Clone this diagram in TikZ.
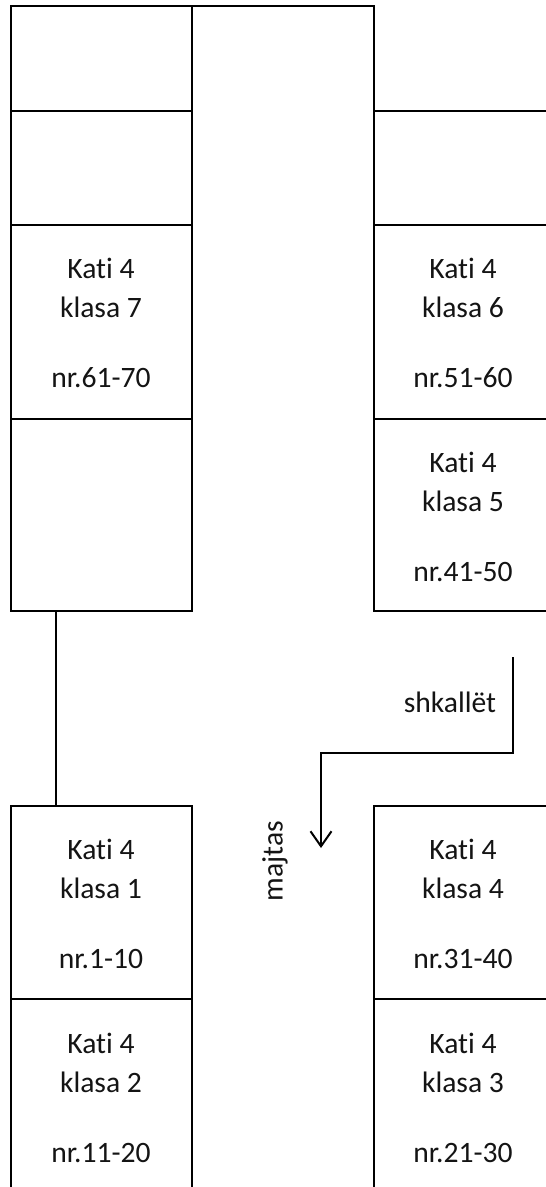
\documentclass[tikz,border=0pt]{standalone}
\usepackage{fontspec}
\setmainfont{Carlito}[Ligatures=NoCommon]
\usetikzlibrary{arrows.meta}
\tikzset{
  wall/.style={draw=black,line width=1.5pt,line cap=butt},
  lbl/.style={inner sep=0pt,font=\fontsize{29.6}{34}\selectfont,text=black!92},
  flow/.style={draw=black,line width=2pt,line join=miter,-{Straight Barb[length=15pt,width=21pt,line width=2pt]}}
}
\begin{document}
\begin{tikzpicture}[x=1pt,y=-1pt]
\useasboundingbox (0,0) rectangle (546,1187);
\fill[white] (0,0) rectangle (546,1187);
% upper block, left
\draw[wall] (11,6) rectangle (192,611);
\draw[wall] (11,111) -- (192,111);
\draw[wall] (11,225) -- (192,225);
\draw[wall] (11,419) -- (192,419);
% corridor
\draw[wall] (192,6) -- (374,6) -- (374,611) -- (546,611);
% upper block, right
\draw[wall] (374,111) -- (546,111);
\draw[wall] (374,225) -- (546,225);
\draw[wall] (374,419) -- (546,419);
% link
\draw[wall] (56,611) -- (56,806);
% lower block, left
\draw[wall] (11,1187) -- (11,806) -- (192,806) -- (192,1187);
\draw[wall] (11,999) -- (192,999);
% lower block, right
\draw[wall] (374,1187) -- (374,806) -- (546,806);
\draw[wall] (374,999) -- (546,999);
% stairs arrow
\coordinate (s) at (513,657);
\coordinate (t) at (321,848);
\draw[flow] (s) -- (513,753) -- (321,753) -- (t);
% labels
\foreach \n/\x/\ya/\k/\r in {
 a/101/268/7/61-70,
 b/463/268/6/51-60,
 c/463/462/5/41-50,
 d/101/849/1/1-10,
 e/463/849/4/31-40,
 f/101/1043/2/11-20,
 g/463/1043/3/21-30}{
  \node[lbl] (\n1) at (\x,\ya) {Kati 4};
  \node[lbl] (\n2) at (\x,\ya+39) {klasa \k};
  \node[lbl] (\n3) at (\x,\ya+110) {nr.\r};
}
\node[lbl] (sh) at (450,702) {shkallët};
\node[lbl,rotate=90] (mj) at (275,861) {majtas};
\end{tikzpicture}
\end{document}
